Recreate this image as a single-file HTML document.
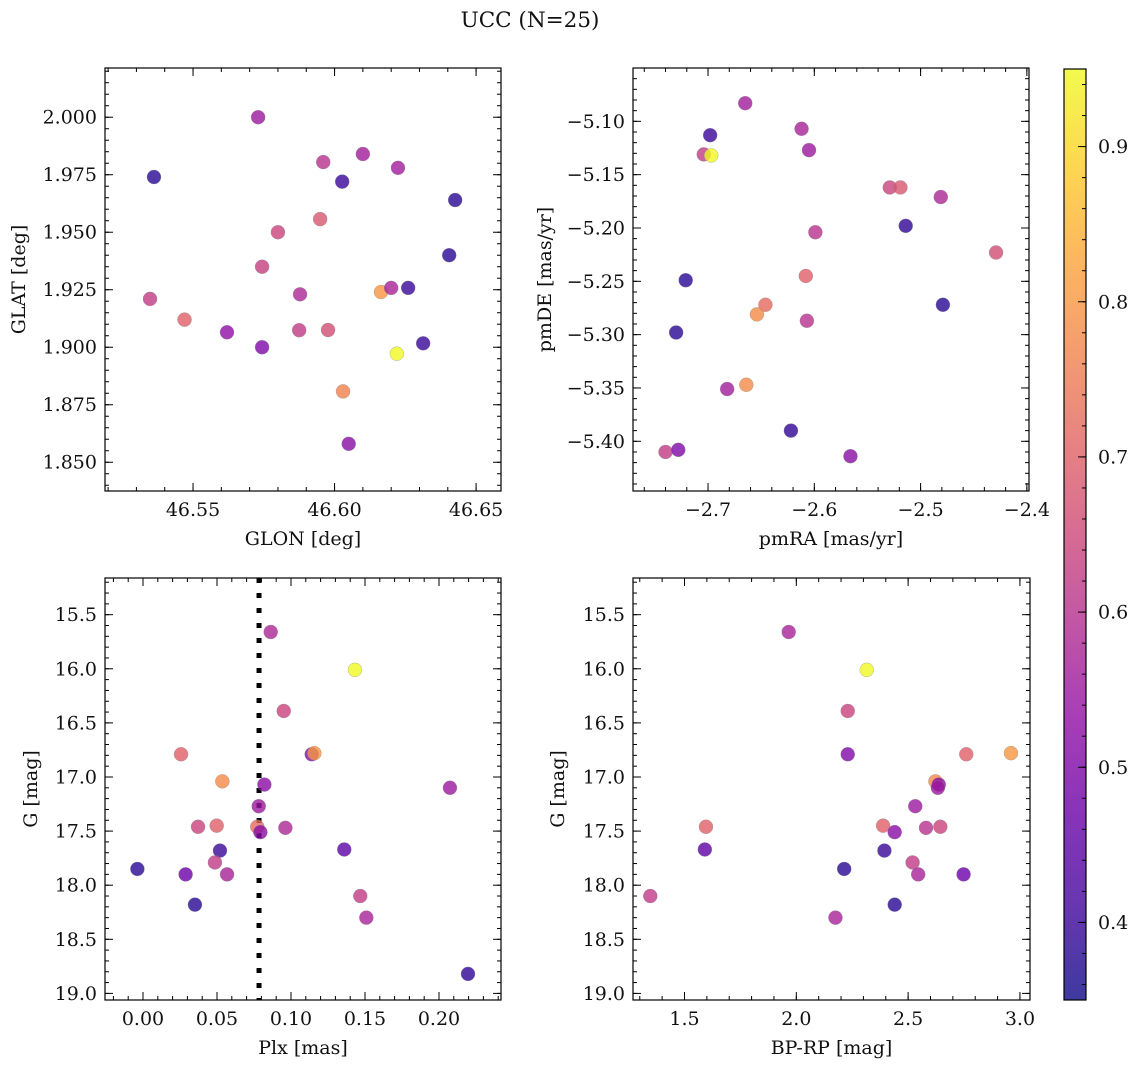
<!DOCTYPE html>
<html><head><meta charset="utf-8"><style>
html,body{margin:0;padding:0;background:#fff;}
svg text{font-family:"DejaVu Serif","Liberation Serif",serif;fill:#111;}
</style></head>
<body>
<svg id="fig" width="1136" height="1068" viewBox="0 0 1136 1068" xmlns="http://www.w3.org/2000/svg">
<defs>
<linearGradient id="cbgrad" x1="0" y1="1" x2="0" y2="0">
<stop offset="0" stop-color="#0d0887"/><stop offset="0.1" stop-color="#41049d"/><stop offset="0.2" stop-color="#6a00a8"/><stop offset="0.3" stop-color="#8f0da4"/><stop offset="0.4" stop-color="#b12a90"/><stop offset="0.5" stop-color="#cc4778"/><stop offset="0.6" stop-color="#e16462"/><stop offset="0.7" stop-color="#f2844b"/><stop offset="0.8" stop-color="#fca636"/><stop offset="0.9" stop-color="#fcce25"/><stop offset="1" stop-color="#f0f921"/>
</linearGradient>
</defs>
<text x="530" y="27" font-size="21.5" text-anchor="middle">UCC (N=25)</text>
</svg>
<script>
// Panel 1: GLON / GLAT
const glon = [46.5362,46.573,46.5348,46.547,46.562,46.5744,46.5744,46.580,46.5878,46.5875,46.596,46.5949,46.5977,46.6027,46.603,46.605,46.610,46.6224,46.6164,46.620,46.626,46.622,46.6313,46.6405,46.6426];
const glat = [1.974,2.000,1.921,1.912,1.9065,1.900,1.935,1.950,1.923,1.9074,1.9805,1.9557,1.9075,1.972,1.8808,1.858,1.984,1.978,1.924,1.9258,1.9258,1.8972,1.9017,1.940,1.964];
const prob1 = [0.38,0.55,0.62,0.70,0.53,0.50,0.63,0.64,0.58,0.62,0.60,0.68,0.66,0.40,0.76,0.52,0.56,0.56,0.80,0.57,0.40,0.95,0.40,0.38,0.38];
// Panel 2: pmRA / pmDE
const pmra = [-2.665,-2.698,-2.704,-2.697,-2.612,-2.605,-2.529,-2.519,-2.481,-2.599,-2.514,-2.429,-2.721,-2.608,-2.646,-2.654,-2.607,-2.479,-2.730,-2.682,-2.664,-2.622,-2.740,-2.728,-2.566];
const pmde = [-5.083,-5.113,-5.131,-5.132,-5.107,-5.127,-5.162,-5.162,-5.171,-5.204,-5.198,-5.223,-5.249,-5.245,-5.272,-5.281,-5.287,-5.272,-5.298,-5.351,-5.347,-5.390,-5.410,-5.408,-5.414];
const prob2 = [0.56,0.40,0.62,0.95,0.57,0.55,0.64,0.68,0.58,0.60,0.39,0.66,0.38,0.70,0.72,0.78,0.60,0.38,0.38,0.56,0.78,0.39,0.62,0.50,0.52];
// Panel 3: Plx / G
const plx = [0.0863,0.1432,0.0951,0.0257,0.114,0.1158,0.0536,0.082,0.2074,0.0782,0.0372,0.0498,0.0772,0.0793,0.0962,0.052,0.136,-0.0038,0.0486,0.0288,0.0568,0.0351,0.1468,0.1509,0.2196];
const gmag3 = [15.66,16.01,16.39,16.79,16.79,16.78,17.04,17.07,17.10,17.27,17.46,17.45,17.46,17.51,17.47,17.68,17.67,17.85,17.79,17.90,17.90,18.18,18.10,18.30,18.82];
const prob3 = [0.58,0.95,0.64,0.70,0.50,0.80,0.78,0.52,0.55,0.55,0.64,0.70,0.72,0.52,0.58,0.40,0.45,0.38,0.62,0.47,0.57,0.38,0.62,0.57,0.39];
// Panel 4: BP-RP / G
const bprp = [1.966,2.315,2.230,2.230,2.760,2.960,2.622,2.637,2.633,2.532,1.596,2.388,2.580,2.644,2.440,1.591,2.394,2.214,2.520,2.545,2.748,2.440,1.347,2.175];
const gmag4 = [15.66,16.01,16.39,16.79,16.79,16.78,17.04,17.07,17.10,17.27,17.46,17.45,17.47,17.46,17.51,17.67,17.68,17.85,17.79,17.90,17.90,18.18,18.10,18.30];
const prob4 = [0.57,0.95,0.64,0.50,0.70,0.80,0.78,0.52,0.55,0.55,0.70,0.70,0.60,0.64,0.52,0.45,0.40,0.38,0.62,0.57,0.47,0.38,0.62,0.57];
const plxLine = [0.0784];
const cbTicks = [0.4,0.5,0.6,0.7,0.8,0.9];
const cbMin = 0.35, cbMax = 0.95;

const NS = "http://www.w3.org/2000/svg";
const svg = document.getElementById('fig');
const FS = 19;
function mk(tag, attrs, parent){const e=document.createElementNS(NS,tag);for(const k in attrs)e.setAttribute(k,attrs[k]);(parent||svg).appendChild(e);return e;}

const stops=[[0,[13,8,135]],[0.1,[65,4,157]],[0.2,[106,0,168]],[0.3,[143,13,164]],[0.4,[177,42,144]],[0.5,[204,71,120]],[0.6,[225,100,98]],[0.7,[242,132,75]],[0.8,[252,166,54]],[0.9,[252,206,37]],[1,[240,249,33]]];
function plasma(t){t=Math.max(0,Math.min(1,t));for(let i=1;i<stops.length;i++){if(t<=stops[i][0]){const a=stops[i-1],b=stops[i];const f=(t-a[0])/(b[0]-a[0]);const c=a[1].map((v,j)=>Math.round(v+(b[1][j]-v)*f));return `rgb(${c[0]},${c[1]},${c[2]})`;}}return 'rgb(240,249,33)';}

function range(a,b,s){const r=[];for(let v=a;v<=b+s*1e-6;v+=s)r.push(Math.round(v/s)*s);return r;}

function panel(cfg){
  const g=mk('g',{});
  
  
  const {x0,x1,y0,y1,xd,yd}=cfg;
  const sx=v=>x0+(v-xd[0])/(xd[1]-xd[0])*(x1-x0);
  const sy=v=>y1-(v-yd[0])/(yd[1]-yd[0])*(y1-y0);
  const tk=mk('g',{stroke:'#000','stroke-width':1},g);
  
  
  const inX=v=>v>=xd[0]&&v<=xd[1], inY=v=>v>=yd[0]&&v<=yd[1];
  cfg.xminor.filter(inX).forEach(v=>{const x=sx(v);mk('line',{x1:x,x2:x,y1:y1,y2:y1-4},tk);mk('line',{x1:x,x2:x,y1:y0,y2:y0+4},tk);});
  cfg.yminor.filter(inY).forEach(v=>{const y=sy(v);mk('line',{x1:x0,x2:x0+4,y1:y,y2:y},tk);mk('line',{x1:x1,x2:x1-4,y1:y,y2:y},tk);});
  cfg.xmajor.filter(inX).forEach(v=>{const x=sx(v);mk('line',{x1:x,x2:x,y1:y1,y2:y1-8},tk);mk('line',{x1:x,x2:x,y1:y0,y2:y0+8},tk);
    const t=mk('text',{x:x,y:y1+25,'font-size':FS,'text-anchor':'middle'},g);t.textContent=cfg.xfmt(v);
    });
  cfg.ymajor.filter(inY).forEach(v=>{const y=sy(v);mk('line',{x1:x0,x2:x0+8,y1:y,y2:y},tk);mk('line',{x1:x1,x2:x1-8,y1:y,y2:y},tk);
    const t=mk('text',{x:x0-8,y:y+6.5,'font-size':FS,'text-anchor':'end'},g);t.textContent=cfg.yfmt(v);
    });
  const xt=mk('text',{x:(x0+x1)/2,y:y1+54,'font-size':FS,'text-anchor':'middle'},g);xt.textContent=cfg.xlabel;
  
  const yt=mk('text',{x:0,y:0,'font-size':FS,'text-anchor':'middle',transform:`translate(${cfg.ylx},${(y0+y1)/2}) rotate(-90)`},g);yt.textContent=cfg.ylabel;
  
  if(cfg.vline!==undefined){const x=sx(cfg.vline);const l=mk('line',{x1:x,x2:x,y1:y0,y2:y1,stroke:'#000','stroke-width':5,'stroke-dasharray':'5 10'},g);
    }
  const pts=mk('g',{},g);
  
  
  cfg.xs.forEach((xv,i)=>{
    const c=mk('circle',{cx:sx(xv),cy:sy(cfg.ys[i]),r:7,fill:plasma((cfg.cs[i]-cbMin)/(cbMax-cbMin)),'fill-opacity':0.8,stroke:'#888','stroke-width':0.3},pts);
    
    
  });
  const fr=mk('rect',{x:x0,y:y0,width:x1-x0,height:y1-y0,fill:'none',stroke:'#000','stroke-width':1.2},g);
  
  
}
const minus=s=>s.replace('-','\u2212');

panel({name:'glon-glat-panel',x0:105,x1:501,y0:68,y1:491,xd:[46.5189,46.6588],yd:[1.8375,2.0214],
  xmajor:range(46.50,46.70,0.05),xminor:range(46.50,46.70,0.01),ymajor:range(1.825,2.0,0.025),yminor:range(1.83,2.03,0.005),
  xfmt:v=>v.toFixed(2),yfmt:v=>v.toFixed(3),xlabel:'GLON [deg]',ylabel:'GLAT [deg]',ylx:25,xs:glon,ys:glat,cs:prob1});
panel({name:'pmra-pmde-panel',x0:633,x1:1029,y0:68,y1:491,xd:[-2.7706,-2.398],yd:[-5.4466,-5.05],
  xmajor:range(-2.8,-2.4,0.1),xminor:range(-2.8,-2.38,0.02),ymajor:range(-5.45,-5.10,0.05),yminor:range(-5.45,-5.05,0.01),
  xfmt:v=>minus(v.toFixed(1)),yfmt:v=>minus(v.toFixed(2)),xlabel:'pmRA [mas/yr]',ylabel:'pmDE [mas/yr]',ylx:551,xs:pmra,ys:pmde,cs:prob2});
panel({name:'plx-g-panel',x0:105,x1:501,y0:578,y1:1000,xd:[-0.02568,0.2419],yd:[-19.061,-15.161],
  xmajor:range(0,0.25,0.05),xminor:range(-0.02,0.25,0.01),ymajor:range(-19.0,-15.0,0.5),yminor:range(-19.1,-15.1,0.1),
  xfmt:v=>v.toFixed(2),yfmt:v=>(-v).toFixed(1),xlabel:'Plx [mas]',ylabel:'G [mag]',ylx:37,xs:plx,ys:gmag3.map(v=>-v),cs:prob3,vline:plxLine[0]});
panel({name:'bprp-g-panel',x0:633,x1:1030,y0:578,y1:1000,xd:[1.2697,3.045],yd:[-19.061,-15.161],
  xmajor:range(1.0,3.0,0.5),xminor:range(1.0,3.1,0.1),ymajor:range(-19.0,-15.0,0.5),yminor:range(-19.1,-15.1,0.1),
  xfmt:v=>v.toFixed(1),yfmt:v=>(-v).toFixed(1),xlabel:'BP-RP [mag]',ylabel:'G [mag]',ylx:564,xs:bprp,ys:gmag4.map(v=>-v),cs:prob4});

// colorbar
const cb=mk('g',{});


const cy0=69,cy1=1000,cx0=1064,cx1=1086;
const cys=v=>cy1-(v-cbMin)/(cbMax-cbMin)*(cy1-cy0);
mk('rect',{x:cx0,y:cy0,width:cx1-cx0,height:cy1-cy0,fill:'url(#cbgrad)','fill-opacity':0.8},cb);
range(0.36,0.94,0.02).forEach(v=>{const y=cys(v);mk('line',{x1:cx1,x2:cx1-4,y1:y,y2:y,stroke:'#000'},cb);});
cbTicks.forEach(v=>{const y=cys(v);mk('line',{x1:cx1,x2:cx1-8,y1:y,y2:y,stroke:'#000'},cb);
  const t=mk('text',{x:cx1+12,y:y+6.5,'font-size':FS},cb);t.textContent=v.toFixed(1);
  
  });
mk('rect',{x:cx0,y:cy0,width:cx1-cx0,height:cy1-cy0,fill:'none',stroke:'#000','stroke-width':1.2},cb);
</script>
</body></html>
